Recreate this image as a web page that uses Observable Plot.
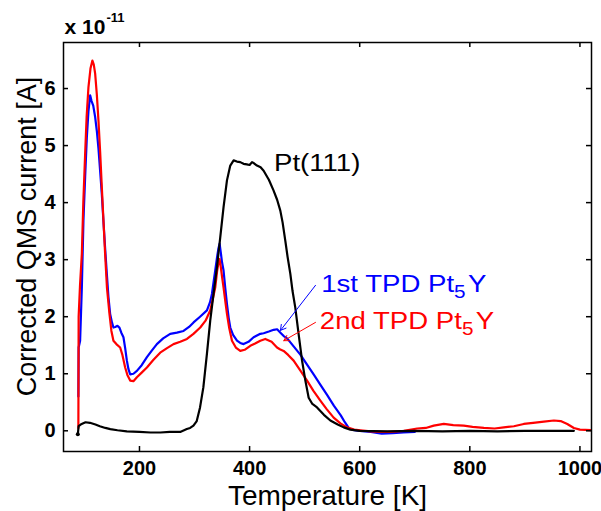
<!DOCTYPE html>
<html><head><meta charset="utf-8">
<script src="https://cdn.jsdelivr.net/npm/d3@7"></script>
<script src="https://cdn.jsdelivr.net/npm/@observablehq/plot@0.6"></script>
<style>body{margin:0;background:#fff}</style>
</head><body><div id="chart"></div>
<script>
// ---- data (Temperature [K], current [x 1e-11 A]) ----
const pt111 = [[88,-0.06],[89.5,0.08],[95,0.12],[102,0.15],[110,0.14],[120,0.11],[128,0.08],[138,0.05],[147,0.03],[160,0.01],[177,-0.01],[200,-0.02],[220,-0.03],[238,-0.03],[255,-0.02],[274,-0.02],[286,0.03],[292,0.05],[298,0.09],[304,0.17],[310,0.41],[316,0.76],[322.5,1.35],[328.5,1.93],[334.5,2.40],[340.7,2.87],[346.7,3.39],[352.7,3.92],[358.9,4.39],[364.9,4.65],[371,4.74],[377,4.72],[383,4.71],[389,4.68],[395,4.67],[400,4.66],[404.4,4.71],[408,4.69],[413.4,4.65],[420,4.62],[425.5,4.56],[435,4.40],[443.6,4.21],[450,4.05],[455.8,3.86],[460,3.65],[464.9,3.33],[469,3.05],[474,2.75],[478,2.45],[483,2.16],[489,1.70],[495.3,1.23],[501.3,0.88],[507.3,0.58],[514,0.47],[522.5,0.41],[535,0.28],[546.7,0.18],[560,0.11],[571,0.06],[583,0.02],[600,0.0],[650,-0.01],[700,0.0],[750,-0.01],[800,0.0],[850,-0.01],[900,0.0],[950,0.0],[989,0.0]];

const tpd1 = [[89,0.6],[89.5,1.46],[92.2,1.58],[95.3,2.51],[98.2,3.68],[101.3,4.45],[104.4,5.15],[107.3,5.6],[110.4,5.88],[113,5.78],[116,5.7],[119.5,5.5],[122.5,5.26],[125.5,4.95],[128.5,4.56],[131.6,4.15],[134.5,3.68],[137.6,3.2],[140.7,2.75],[143.6,2.35],[146.7,2.05],[150,1.9],[152.7,1.81],[156,1.82],[160,1.84],[163.6,1.81],[167,1.72],[170.9,1.64],[174,1.45],[177.1,1.23],[180,1.08],[183.1,0.99],[189,1.0],[195.3,1.05],[204,1.15],[213.5,1.29],[222,1.40],[231.6,1.52],[243,1.62],[255.8,1.70],[268,1.72],[280,1.75],[290,1.82],[298.2,1.90],[310,2.0],[322.5,2.11],[328,2.25],[331.6,2.40],[334.5,2.6],[337.6,2.81],[341,3.05],[343.5,3.2],[345.5,3.28],[348,3.1],[350,2.95],[352.7,2.81],[355.8,2.5],[358.9,2.22],[362,1.98],[364.9,1.81],[370,1.68],[377.1,1.58],[383,1.54],[389.1,1.52],[398,1.56],[407.3,1.64],[419.5,1.70],[425.5,1.71],[435,1.74],[443.8,1.77],[450,1.78],[456,1.72],[462,1.66],[468.2,1.62],[480,1.48],[492.5,1.33],[505,1.15],[516.9,0.98],[529,0.8],[541.3,0.62],[553,0.44],[565.6,0.27],[573,0.15],[580.9,0.04],[590,0.01],[600,0.0],[620,-0.02],[640,-0.05],[660,-0.04],[680,-0.03],[700,-0.02]];

const tpd2 = [[89,0.05],[89.5,2.0],[92,2.55],[95.3,3.10],[98,4.0],[101.3,4.85],[104,5.5],[107.3,6.02],[111,6.35],[114.5,6.49],[117,6.42],[119.5,6.26],[122.5,5.9],[125.5,5.44],[128.5,4.9],[131.6,4.27],[134.5,3.7],[137.6,3.10],[141,2.5],[145.5,2.05],[149,1.75],[152.7,1.58],[158,1.52],[164.9,1.46],[169,1.33],[174,1.11],[178,0.98],[183.1,0.88],[189,0.87],[195.3,0.94],[204,1.02],[213.5,1.11],[225,1.24],[237.6,1.37],[250,1.45],[261.8,1.52],[274,1.56],[286.2,1.61],[298,1.70],[310.4,1.81],[320,1.93],[328.5,2.11],[333,2.3],[337.6,2.51],[341,2.8],[343.5,2.95],[345.5,3.01],[348,2.85],[350,2.7],[352.7,2.51],[355.8,2.28],[358.9,2.05],[363,1.8],[368,1.58],[375,1.46],[383.1,1.40],[391,1.42],[401.3,1.49],[410,1.53],[419.5,1.58],[428.5,1.61],[440,1.56],[449.8,1.46],[455,1.43],[461.8,1.40],[470,1.33],[480,1.23],[492,1.06],[504.4,0.88],[516,0.70],[528.5,0.53],[540,0.38],[552.7,0.23],[565,0.13],[577,0.06],[590,0.02],[601.3,0.01],[620,-0.01],[640,-0.02],[655.8,-0.02],[680,0.0],[704.4,0.04],[720,0.05],[734.5,0.09],[752.7,0.12],[770,0.10],[789,0.09],[805,0.07],[825.5,0.05],[845,0.04],[861.8,0.06],[880,0.08],[898,0.12],[915,0.14],[934.5,0.16],[952.7,0.18],[965,0.17],[977,0.12],[989,0.05],[1000,0.02],[1020,0.01]];

const xTicks = [200, 400, 600, 800, 1000];
const yTicks = [0, 1, 2, 3, 4, 5, 6];
const xDomain = [62, 1021];
const yDomain = [-0.363, 6.807];
const xLabel = "Temperature [K]";
const yLabel = "Corrected QMS current [A]";
const scaleBase = "x 10";
const scaleExp = "-11";
const seriesNames = ["Pt(111)", "1st TPD Pt5Y", "2nd TPD Pt5Y"];
const seriesColors = ["#000000", "#0000ff", "#ff0000"];
const labelPos = [[444.3, 4.56], [530, 2.43], [527.5, 1.79]];
const arrows = [[519.7, 2.55, 456.1, 1.76], [519.7, 1.90, 462.1, 1.58]];

const FONT = "'Liberation Sans', Arial, sans-serif";
const W = 601, H = 511, ML = 63, MR = 10, MT = 42, MB = 60;
const fw = W - ML - MR, fh = H - MT - MB, tick = 5;

const labelMarks = seriesNames.map((name, i) =>
  Plot.text([name], {x: labelPos[i][0], y: labelPos[i][1], text: d => d,
    textAnchor: "start", lineAnchor: "bottom", fontSize: 24, fill: seriesColors[i],
    className: "anno"}));
const arrowMarks = arrows.map((a, i) =>
  Plot.arrow([a], {x1: d => d[0], y1: d => d[1], x2: d => d[2], y2: d => d[3],
    stroke: seriesColors[i + 1], strokeWidth: 1, headLength: 9}));

const svg = Plot.plot({
  width: W, height: H,
  marginLeft: ML, marginRight: MR, marginTop: MT, marginBottom: MB,
  style: {fontFamily: FONT, background: "#fff", color: "#000"},
  x: {domain: xDomain},
  y: {domain: yDomain},
  marks: [
    Plot.line(tpd1, {x: d => d[0], y: d => d[1], stroke: seriesColors[1], strokeWidth: 2.2}),
    Plot.line(tpd2, {x: d => d[0], y: d => d[1], stroke: seriesColors[2], strokeWidth: 2.2}),
    Plot.line(pt111, {x: d => d[0], y: d => d[1], stroke: seriesColors[0], strokeWidth: 2.2}),
    Plot.dot(pt111.slice(0, 1), {x: d => d[0], y: d => d[1], r: 2, fill: "#000"}),
    Plot.ruleX(xTicks, {x: d => d, insetTop: fh - tick, strokeWidth: 1.5}),
    Plot.ruleX(xTicks, {x: d => d, insetBottom: fh - tick, strokeWidth: 1.5}),
    Plot.ruleY(yTicks, {y: d => d, insetRight: fw - tick, strokeWidth: 1.5}),
    Plot.ruleY(yTicks, {y: d => d, insetLeft: fw - tick, strokeWidth: 1.5}),
    Plot.frame({stroke: "#000", strokeWidth: 1.5}),
    Plot.axisX({ticks: xTicks, tickSize: 0, tickPadding: 9, tickFormat: d => String(d), label: null, fontSize: 20, fontWeight: "bold"}),
    Plot.axisY({ticks: yTicks, tickSize: 0, tickPadding: 8, tickFormat: d => String(d), label: null, fontSize: 20, fontWeight: "bold"}),
    Plot.text([xLabel], {frameAnchor: "bottom", dy: 53, lineAnchor: "bottom", fontSize: 28, text: d => d}),
    Plot.text([yLabel], {frameAnchor: "left", dx: -36, dy: -10.5, rotate: -90, textAnchor: "middle", fontSize: 27, text: d => d}),
    Plot.text([scaleBase], {frameAnchor: "top-left", dx: 1, dy: -9, textAnchor: "start", lineAnchor: "bottom", fontSize: 21, fontWeight: "bold", text: d => d}),
    ...arrowMarks,
    ...labelMarks
  ]
});

// rich text: subscript 5, exponent, and the reference's wide annotation lettering
d3.select(svg).selectAll("text").each(function () {
  const t = this.textContent;
  const sel = d3.select(this);
  if (/Pt5Y$/.test(t)) {
    sel.text(t.slice(0, -2));
    sel.append("tspan").attr("font-size", 18).attr("dy", 6).text("5");
    sel.append("tspan").attr("dy", -6).attr("dx", 2).text("Y");
  } else if (t === scaleBase) {
    sel.append("tspan").attr("font-size", 13).attr("dy", -12).attr("dx", 1).text(scaleExp);
  }
});
d3.select(svg).selectAll(".anno text").each(function () {
  const tr = this.getAttribute("transform") || "";
  this.setAttribute("transform", tr + " scale(1.15,1)");
});
document.getElementById("chart").appendChild(svg);
</script>
</body></html>
